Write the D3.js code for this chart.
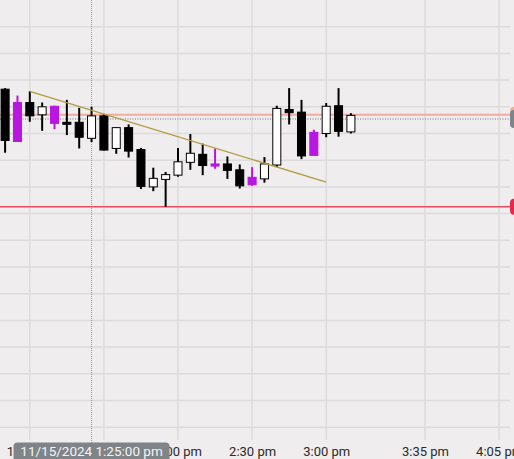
<!DOCTYPE html>
<html>
<head>
<meta charset="utf-8">
<title>Candles</title>
<script src="https://d3js.org/d3.v7.min.js"></script>
<style>
body{margin:0;background:#efedee;overflow:hidden}
text{font-family:Roboto, "Noto Sans", sans-serif}
</style>
</head>
<body>
<div id="chart"></div>
<script>
// 5 minute bars, bar 0 = 1:00 pm
var barIdx = d3.range(-2, 27);
var kind  = ["down","mag","down","up","mag","down","down","up","down","up","down","down","up","up","up",
             "up","down","mag","down","down","mag","up","up","down","down","mag","up","down","up"];
var open  = [226.33,226.08,226.08,225.85,226.01,225.71,225.71,225.41,225.83,225.22,225.61,225.20,224.50,224.64,224.72,
             224.96,225.11,224.93,224.93,224.82,224.68,224.65,224.91,225.95,225.90,225.52,225.50,226.02,225.53];
var high  = [226.35,226.21,226.29,226.08,226.02,226.13,225.98,226.00,225.86,225.62,225.67,225.23,224.86,224.78,225.23,
             225.49,225.31,225.22,225.07,224.92,224.87,225.06,226.02,226.35,226.13,225.57,226.07,226.35,225.88];
var low   = [225.14,225.34,225.72,225.55,225.58,225.47,225.22,225.34,225.18,225.12,225.05,224.46,224.42,224.13,224.69,
             224.82,224.72,224.84,224.65,224.47,224.52,224.58,224.87,225.67,225.02,225.09,225.43,225.44,225.50];
var close = [225.37,225.35,225.83,226.00,225.69,225.68,225.43,225.83,225.19,225.61,225.17,224.51,224.66,224.73,224.97,
             225.13,224.90,224.89,224.81,224.52,224.54,224.93,225.97,225.89,225.08,225.09,226.01,225.54,225.84];

var tickIdx    = [0, 6, 12, 18, 24, 32, 38];
var tickLabels = ["1:00 pm","1:30 pm","2:00 pm","2:30 pm","3:00 pm","3:35 pm","4:05 pm"];
var priceGrid  = d3.range(220, 228, 0.5);

var trendIdx   = [0, 24];
var trendPrice = [226.29, 224.59];
var levelPrice = [225.85, 224.13];   // salmon, red
var lastPrice  = 225.77;             // dotted
var cursorIdx  = 5;
var cursorText = "11/15/2024 1:25:00 pm";

var width = 514, height = 459, plotBottom = 440;

var x = d3.scaleLinear().domain([0, 38]).range([29.8, 499.1]);
var y = d3.scaleLinear().domain([228, 220]).range([0, 427.2]);
var step = x(1) - x(0);
var bodyW = step * 0.65;

var colors = {up: "#ffffff", down: "#000000", mag: "#b916e0"};
var edge   = {up: "#000000", down: "#000000", mag: "#b916e0"};

var svg = d3.select("#chart").append("svg")
    .attr("width", width)
    .attr("height", height);

svg.append("rect").attr("width", width).attr("height", height).attr("fill", "#efedee");

// grid
svg.append("g").selectAll("line")
    .data(priceGrid).enter().append("line")
    .attr("x1", 0).attr("x2", 510)
    .attr("y1", function(d) { return y(d); })
    .attr("y2", function(d) { return y(d); })
    .attr("stroke", "#dddbdc").attr("stroke-width", 1.5);

svg.append("g").selectAll("line")
    .data(tickIdx).enter().append("line")
    .attr("x1", function(d) { return x(d); })
    .attr("x2", function(d) { return x(d); })
    .attr("y1", 0).attr("y2", plotBottom)
    .attr("stroke", "#dddbdc").attr("stroke-width", 1.5);

// x labels
var xAxis = d3.axisBottom(x)
    .tickValues(tickIdx)
    .tickFormat(function(d, i) { return tickLabels[i]; })
    .tickSize(0).tickPadding(0);
var ax = svg.append("g").attr("transform", "translate(0,443)").call(xAxis);
ax.select(".domain").remove();
ax.selectAll("text")
    .attr("font-size", "13px")
    .attr("font-family", "Roboto, sans-serif")
    .attr("fill", "#2a2a2a")
    .attr("dy", "0.98em");

// crosshair vertical
svg.append("line")
    .attr("x1", x(cursorIdx)).attr("x2", x(cursorIdx))
    .attr("y1", 0).attr("y2", 443)
    .attr("stroke", "#9a9a9a").attr("stroke-width", 1)
    .attr("stroke-dasharray", "1,1");

// level lines
svg.append("line")
    .attr("x1", 0).attr("x2", 512)
    .attr("y1", y(levelPrice[0])).attr("y2", y(levelPrice[0]))
    .attr("stroke", "#f2ab9c").attr("stroke-width", 2);
svg.append("line")
    .attr("x1", 0).attr("x2", 512)
    .attr("y1", y(lastPrice)).attr("y2", y(lastPrice))
    .attr("stroke", "#9c9c9c").attr("stroke-width", 1.5)
    .attr("stroke-dasharray", "1,1.5");
svg.append("line")
    .attr("x1", 0).attr("x2", 512)
    .attr("y1", y(levelPrice[1])).attr("y2", y(levelPrice[1]))
    .attr("stroke", "#e44d62").attr("stroke-width", 1.5);

// candles
var bars = barIdx.map(function(d, i) {
    return {i: d, k: kind[i], o: open[i], h: high[i], l: low[i], c: close[i]};
});

var g = svg.append("g");
g.selectAll(".wick").data(bars).enter().append("line")
    .attr("x1", function(d) { return x(d.i); })
    .attr("x2", function(d) { return x(d.i); })
    .attr("y1", function(d) { return y(d.h); })
    .attr("y2", function(d) { return y(d.l); })
    .attr("stroke", function(d) { return edge[d.k]; })
    .attr("stroke-width", 2);

g.selectAll(".body").data(bars).enter().append("rect")
    .attr("x", function(d) { return x(d.i) - bodyW / 2; })
    .attr("width", bodyW)
    .attr("y", function(d) { return y(Math.max(d.o, d.c)); })
    .attr("height", function(d) { return Math.max(2, Math.abs(y(d.o) - y(d.c))); })
    .attr("fill", function(d) { return colors[d.k]; })
    .attr("stroke", function(d) { return edge[d.k]; })
    .attr("stroke-width", 1);

// trend line
svg.append("line")
    .attr("x1", x(trendIdx[0])).attr("x2", x(trendIdx[1]))
    .attr("y1", y(trendPrice[0])).attr("y2", y(trendPrice[1]))
    .attr("stroke", "#b39a3c").attr("stroke-width", 1.3);

// right edge tabs
svg.append("rect")
    .attr("x", 510).attr("y", y(levelPrice[0]) - 8).attr("width", 30).attr("height", 16)
    .attr("rx", 4).attr("fill", "#f2ab9c");
svg.append("rect")
    .attr("x", 510).attr("y", y(lastPrice) - 9).attr("width", 30).attr("height", 18)
    .attr("rx", 4).attr("fill", "#7e8488");
svg.append("rect")
    .attr("x", 510).attr("y", y(levelPrice[1]) - 8).attr("width", 30).attr("height", 16)
    .attr("rx", 4).attr("fill", "#e8284e");

// cursor time label
var tipW = 156;
svg.append("rect")
    .attr("x", x(cursorIdx) - tipW / 2).attr("y", 442.5)
    .attr("width", tipW).attr("height", 24)
    .attr("rx", 4).attr("fill", "#7e8488");
svg.append("text")
    .attr("x", x(cursorIdx)).attr("y", 456)
    .attr("text-anchor", "middle")
    .attr("font-size", "13.5px")
    .attr("fill", "#f4f4f4")
    .text(cursorText);
</script>
</body>
</html>
